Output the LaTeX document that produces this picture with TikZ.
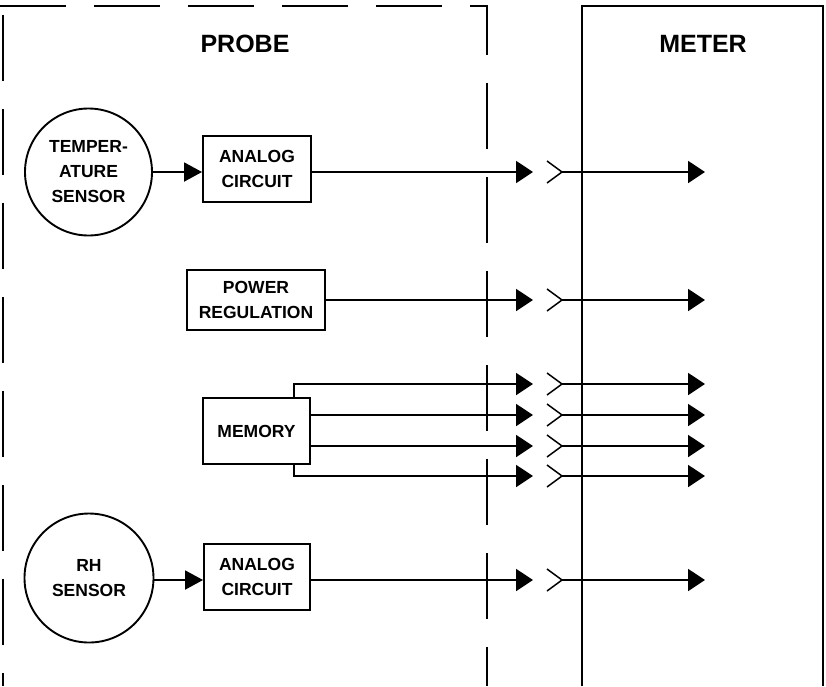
\documentclass[tikz,border=0pt]{standalone}
\usepackage{fontspec}
\setmainfont{Liberation Sans}
\usetikzlibrary{arrows.meta,calc}
\begin{document}
\begin{tikzpicture}[x=1pt,y=-1pt,
  every path/.style={line width=1.9pt},
  lbl/.style={font=\bfseries\fontsize{17.5}{25}\selectfont,align=center,inner sep=0pt},
  title/.style={font=\bfseries\fontsize{25}{30}\selectfont,inner sep=0pt},
  boxnode/.style={draw,lbl,line width=1.9pt},
  circnode/.style={draw,circle,lbl,line width=1.9pt},
  arr/.style={-{Triangle[length=17pt,width=22pt]}},
  sarr/.style={-{Triangle[length=18pt,width=19pt]}},
  chev/.style={line width=1.5pt},
  dashline/.style={dash pattern=on 66pt off 28pt}
]
\useasboundingbox (0,0) rectangle (826,686);

% enclosures
\coordinate (pl) at (0,6);
\coordinate (pc) at (487,6);
\coordinate (pb) at (487,686);
\coordinate (ltop) at (3,15);
\coordinate (lbot) at (3,686);
\draw[dashline] (pl) -- (pc) -- (pb);
\draw[dashline] (ltop) -- (lbot);
\coordinate (ma) at (582,686);
\coordinate (mb) at (582,6);
\coordinate (mc) at (823,6);
\coordinate (md) at (823,686);
\draw (ma) -- (mb) -- (mc) -- (md);

\node[title] (probe) at (245,43.5) {PROBE};
\node[title] (meter) at (703,43.5) {METER};

% blocks
\node[circnode,minimum size=127pt] (temp) at (88.5,172) {TEMPER-\\ATURE\\SENSOR};
\node[boxnode,minimum width=108pt,minimum height=66pt] (ac1) at (257,169) {ANALOG\\CIRCUIT};
\node[boxnode,minimum width=138pt,minimum height=60pt] (pr) at (256,300) {POWER\\REGULATION};
\node[boxnode,minimum width=107pt,minimum height=66pt] (mem) at (256.5,431) {MEMORY};
\node[circnode,minimum size=129pt] (rh) at (89,578) {RH\\SENSOR};
\node[boxnode,minimum width=106pt,minimum height=66pt] (ac2) at (257,577) {ANALOG\\CIRCUIT};

% row coordinates
\foreach \n/\yy in {1/172,2/300,3/384,4/415,5/446,6/476,7/580}{
  \coordinate (p\n) at (533,\yy);
  \coordinate (c\n) at (562,\yy);
  \coordinate (t\n) at (705,\yy);
}

% probe-side connectors
\draw[sarr] (temp.east) -- (temp.east -| ac1.west);
\draw[arr] (ac1.east |- p1) -- (p1);
\draw[arr] (pr.east |- p2) -- (p2);
\draw[arr] ([xshift=37.5pt]mem.north) |- (p3);
\draw[arr] (mem.east |- p4) -- (p4);
\draw[arr] (mem.east |- p5) -- (p5);
\draw[arr] ([xshift=37.5pt]mem.south) |- (p6);
\draw[sarr] (rh.east |- p7) -- (ac2.west |- p7);
\draw[arr] (ac2.east |- p7) -- (p7);

% connectors and meter side
\foreach \n in {1,...,7}{
  \draw[chev] ($(c\n)+(-15,-11)$) -- (c\n) -- ($(c\n)+(-15,11)$);
  \draw[arr] (c\n) -- (t\n);
}
\end{tikzpicture}
\end{document}
